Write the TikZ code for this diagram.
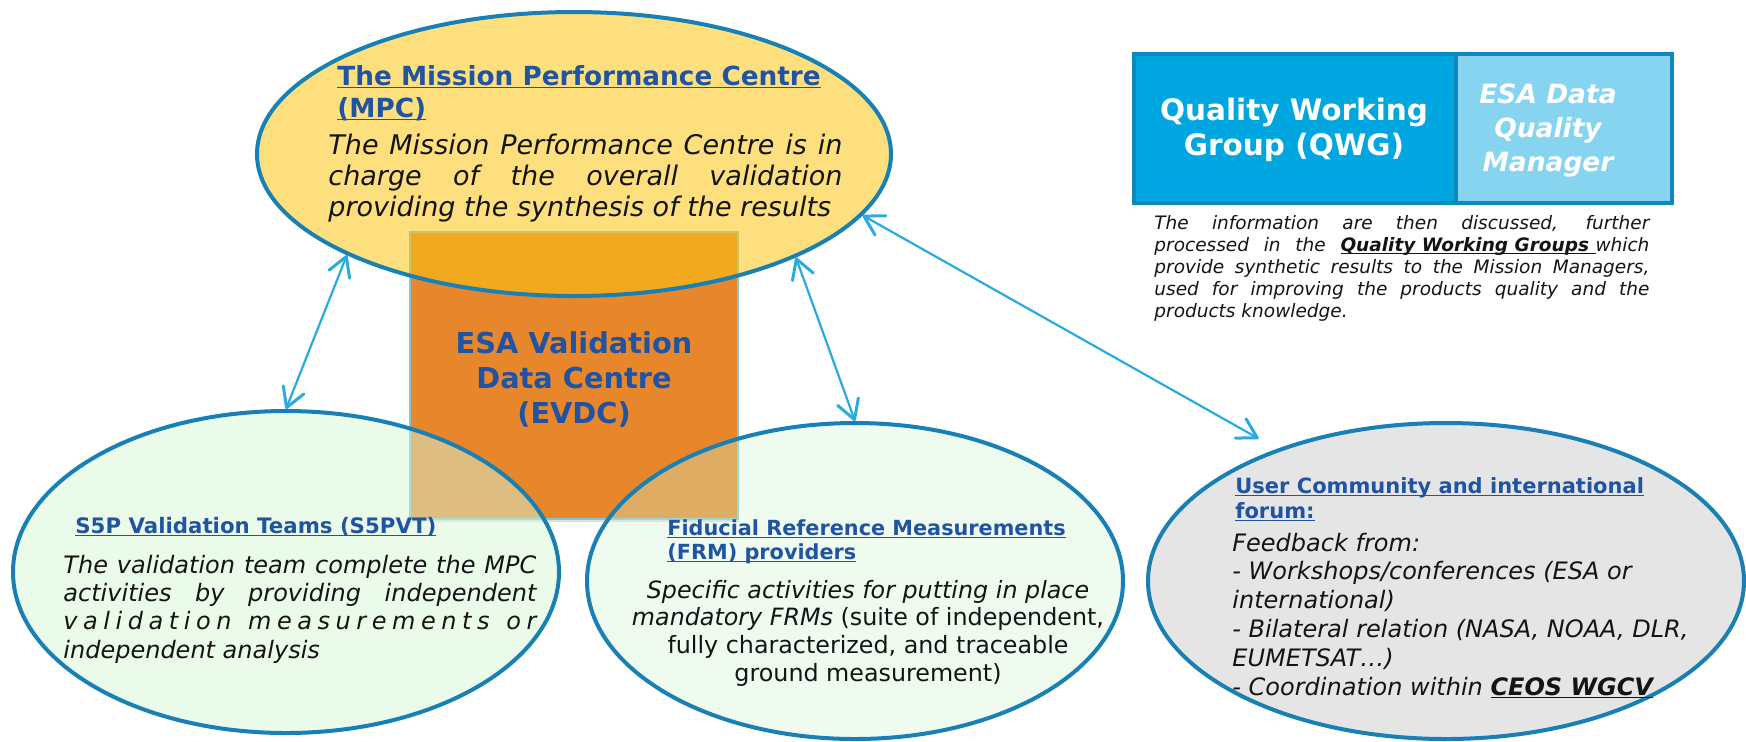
\documentclass[tikz,border=0pt]{standalone}
\usepackage{fontspec}
\setmainfont{DejaVu Sans}
\usetikzlibrary{shapes.geometric,arrows.meta,shadows}

\definecolor{titleblue}{RGB}{32,84,163}
\definecolor{rimblue}{RGB}{24,128,180}
\definecolor{linkblue}{RGB}{41,171,226}
\definecolor{evdcorange}{RGB}{232,134,43}
\definecolor{evdcedge}{RGB}{130,200,212}
\definecolor{mpcgold}{RGB}{251,199,19}
\definecolor{teamgreen}{RGB}{213,247,213}
\definecolor{frmgreen}{RGB}{206,244,206}
\definecolor{usergrey}{RGB}{229,229,229}
\definecolor{qwgblue}{RGB}{0,166,224}
\definecolor{qwgedge}{RGB}{12,138,190}
\definecolor{dqmblue}{RGB}{135,212,240}
\definecolor{bodyink}{RGB}{20,20,20}

% underline drawn just below the baseline, crossing the descenders
\newsavebox\ulbox
\newcommand\ulin[1]{\sbox\ulbox{#1}\rlap{\rule[-1.5pt]{\wd\ulbox}{0.75pt}}\usebox\ulbox}
% a block of lines with a fixed baseline distance; its baseline is the first line's
\newcommand\txtstack[2]{\vtop{\baselineskip=#1\lineskiplimit=-50pt\lineskip=0pt#2}}
\newcommand\midline[1]{\hbox to 0pt{\hss#1\hss}}
\newcommand\plainline[1]{\hbox{#1}}
\newcommand\fullline[2]{\hbox to #1{#2}}
% letter-spaced word: glue after every letter
\def\spreadword#1{\ifx#1\relax\else#1\hfil\expandafter\spreadword\fi}

\tikzset{
  blob/.style={ellipse, draw=rimblue, line width=2pt, inner sep=0pt},
  txt/.style={inner sep=0pt, anchor=base west},
  ctxt/.style={inner sep=0pt, anchor=base},
  link/.style={draw=linkblue, line width=1.1pt, <->,
    >={Straight Barb[length=9.5pt,width=11pt,line width=1.5pt,round]}},
  qwgrect/.style={rectangle, draw=qwgedge, line width=2pt, inner sep=0pt,
    anchor=north west, minimum height=74.5pt}
}

\begin{document}
\begin{tikzpicture}[x=0.5pt, y=-0.5pt]
\useasboundingbox (0,0) rectangle (1746,741);

% Quality Working Group panel
\node[qwgrect, fill=qwgblue, minimum width=161pt] (qwg) at (1132,52) {};
\node[qwgrect, fill=dqmblue, minimum width=108pt] (dqm) at (1454,52) {};

% validation data centre block
\node[rectangle, anchor=north west, inner sep=0pt, fill=evdcorange,
      draw=evdcedge, line width=1pt, minimum width=164pt, minimum height=143.5pt,
      drop shadow={opacity=0.25, shadow xshift=0.5pt, shadow yshift=-1.5pt}]
      (evdc) at (409,231) {};

% the four bodies
\node[blob, fill=mpcgold, fill opacity=0.55, minimum width=317pt, minimum height=142pt] (mpc) at (574,154) {};
\node[blob, fill=teamgreen, fill opacity=0.5, minimum width=273pt, minimum height=161pt] (s5p) at (286,572) {};
\node[blob, fill=frmgreen, fill opacity=0.35, minimum width=268pt, minimum height=158pt] (frm) at (855,581) {};
\node[blob, fill=usergrey, minimum width=298pt, minimum height=158pt] (user) at (1446,581) {};

% exchanges
\draw[link] (mpc.204) -- (s5p.north);
\draw[link] (mpc.335) -- (frm.north);
\draw[link, shorten >=10.5pt] (mpc.348) -- (user.142);

% MPC texts
\node[txt, font=\fontsize{13.15pt}{16pt}\selectfont\bfseries, text=titleblue] (mpctitle) at (337,85)
  {\txtstack{16pt}{\plainline{\ulin{The Mission Performance Centre}}\plainline{\ulin{(MPC)}}}};
\node[txt, font=\fontsize{13.5pt}{15.5pt}\selectfont\itshape, text=bodyink] (mpcbody) at (328,154)
  {\txtstack{15.5pt}{%
    \fullline{257pt}{The Mission Performance Centre is in}%
    \fullline{257pt}{charge of the overall validation}%
    \plainline{providing the synthesis of the results}}};

% EVDC label
\node[ctxt, font=\fontsize{14.4pt}{17.5pt}\selectfont\bfseries, text=titleblue] (evdctext) at (574,353)
  {\txtstack{17.5pt}{\midline{ESA Validation}\midline{Data Centre}\midline{(EVDC)}}};

% validation teams
\node[txt, font=\fontsize{10.65pt}{13pt}\selectfont\bfseries, text=titleblue] (s5ptitle) at (75,533)
  {\ulin{S5P Validation Teams (S5PVT)}};
\node[txt, font=\fontsize{12pt}{14.2pt}\selectfont\itshape, text=bodyink] (s5pbody) at (63,573)
  {\txtstack{14.2pt}{%
    \fullline{236.5pt}{The validation team complete the MPC}%
    \fullline{236.5pt}{activities by providing independent}%
    \hbox to 236.5pt{\spreadword validation\relax\hskip 0pt plus 2fil\spreadword measurements\relax\hskip 0pt plus 2fil o\hfil r}%
    \plainline{independent analysis}}};

% FRM providers
\node[txt, font=\fontsize{10.4pt}{12pt}\selectfont\bfseries, text=titleblue] (frmtitle) at (667,535)
  {\txtstack{12pt}{\plainline{\ulin{Fiducial Reference Measurements}}\plainline{\ulin{(FRM) providers}}}};
\node[ctxt, font=\fontsize{11.9pt}{13.85pt}\selectfont, text=bodyink] (frmbody) at (868,598)
  {\txtstack{13.85pt}{%
    \midline{\itshape Specific activities for putting in place}%
    \midline{\textit{mandatory FRMs} (suite of independent,}%
    \midline{fully characterized, and traceable}%
    \midline{ground measurement)}}};

% user community
\node[txt, font=\fontsize{10.5pt}{12.5pt}\selectfont\bfseries, text=titleblue] (usertitle) at (1235,493)
  {\txtstack{12.5pt}{\plainline{\ulin{User Community and international}}\plainline{\ulin{forum:}}}};
\node[txt, font=\fontsize{12pt}{14.4pt}\selectfont\itshape, text=bodyink] (userbody) at (1232,551)
  {\txtstack{14.4pt}{%
    \plainline{Feedback from:}%
    \plainline{- Workshops/conferences (ESA or}%
    \plainline{international)}%
    \plainline{- Bilateral relation (NASA, NOAA, DLR,}%
    \plainline{EUMETSAT…)}%
    \plainline{- Coordination within \textbf{\ulin{CEOS WGCV}}}}};

% QWG panel texts
\node[ctxt, font=\fontsize{14.75pt}{17.5pt}\selectfont\bfseries, text=white] (qwgtext) at (1294,120)
  {\txtstack{17.5pt}{\midline{Quality Working}\midline{Group (QWG)}}};
\node[ctxt, font=\fontsize{13.25pt}{17pt}\selectfont\bfseries\itshape, text=white] (dqmtext) at (1548,103)
  {\txtstack{17pt}{\midline{ESA Data}\midline{Quality}\midline{Manager}}};
\node[txt, font=\fontsize{9.25pt}{11pt}\selectfont\itshape, text=bodyink] (qwgnote) at (1154,229)
  {\txtstack{11pt}{%
    \fullline{247.5pt}{The information are then discussed, further}%
    \fullline{247.5pt}{processed in the \textbf{\ulin{Quality Working Groups\ }}which}%
    \fullline{247.5pt}{provide synthetic results to the Mission Managers,}%
    \fullline{247.5pt}{used for improving the products quality and the}%
    \plainline{products knowledge.}}};

\end{tikzpicture}
\end{document}
